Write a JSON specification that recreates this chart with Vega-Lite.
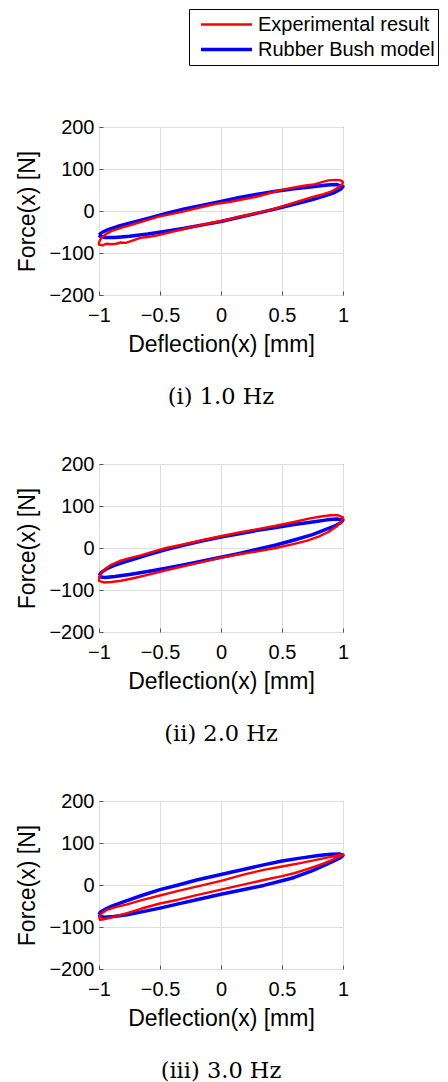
{
  "$schema": "https://vega.github.io/schema/vega-lite/v6.json",
  "autosize": {"type": "pad"},
  "padding": {"left": 16, "top": 8, "right": 0, "bottom": 0},
  "background": "white",
  "datasets": {
    "loops": [
      {"hz":"1.0","series":"Rubber Bush model","i":0,"x":-1,"y":-57},
      {"hz":"1.0","series":"Rubber Bush model","i":1,"x":-0.97,"y":-50},
      {"hz":"1.0","series":"Rubber Bush model","i":2,"x":-0.92,"y":-44},
      {"hz":"1.0","series":"Rubber Bush model","i":3,"x":-0.85,"y":-37},
      {"hz":"1.0","series":"Rubber Bush model","i":4,"x":-0.75,"y":-29},
      {"hz":"1.0","series":"Rubber Bush model","i":5,"x":-0.6,"y":-18},
      {"hz":"1.0","series":"Rubber Bush model","i":6,"x":-0.45,"y":-6},
      {"hz":"1.0","series":"Rubber Bush model","i":7,"x":-0.3,"y":5},
      {"hz":"1.0","series":"Rubber Bush model","i":8,"x":-0.15,"y":14},
      {"hz":"1.0","series":"Rubber Bush model","i":9,"x":0,"y":23},
      {"hz":"1.0","series":"Rubber Bush model","i":10,"x":0.15,"y":32},
      {"hz":"1.0","series":"Rubber Bush model","i":11,"x":0.3,"y":40},
      {"hz":"1.0","series":"Rubber Bush model","i":12,"x":0.45,"y":47},
      {"hz":"1.0","series":"Rubber Bush model","i":13,"x":0.6,"y":53},
      {"hz":"1.0","series":"Rubber Bush model","i":14,"x":0.75,"y":58},
      {"hz":"1.0","series":"Rubber Bush model","i":15,"x":0.87,"y":62},
      {"hz":"1.0","series":"Rubber Bush model","i":16,"x":0.95,"y":63},
      {"hz":"1.0","series":"Rubber Bush model","i":17,"x":1,"y":58},
      {"hz":"1.0","series":"Rubber Bush model","i":18,"x":0.98,"y":52},
      {"hz":"1.0","series":"Rubber Bush model","i":19,"x":0.93,"y":44},
      {"hz":"1.0","series":"Rubber Bush model","i":20,"x":0.85,"y":36},
      {"hz":"1.0","series":"Rubber Bush model","i":21,"x":0.75,"y":27},
      {"hz":"1.0","series":"Rubber Bush model","i":22,"x":0.6,"y":16},
      {"hz":"1.0","series":"Rubber Bush model","i":23,"x":0.45,"y":5},
      {"hz":"1.0","series":"Rubber Bush model","i":24,"x":0.3,"y":-5},
      {"hz":"1.0","series":"Rubber Bush model","i":25,"x":0.15,"y":-15},
      {"hz":"1.0","series":"Rubber Bush model","i":26,"x":0,"y":-25},
      {"hz":"1.0","series":"Rubber Bush model","i":27,"x":-0.15,"y":-33},
      {"hz":"1.0","series":"Rubber Bush model","i":28,"x":-0.3,"y":-41},
      {"hz":"1.0","series":"Rubber Bush model","i":29,"x":-0.45,"y":-48},
      {"hz":"1.0","series":"Rubber Bush model","i":30,"x":-0.6,"y":-55},
      {"hz":"1.0","series":"Rubber Bush model","i":31,"x":-0.75,"y":-60},
      {"hz":"1.0","series":"Rubber Bush model","i":32,"x":-0.87,"y":-63},
      {"hz":"1.0","series":"Rubber Bush model","i":33,"x":-0.95,"y":-63},
      {"hz":"1.0","series":"Rubber Bush model","i":34,"x":-0.99,"y":-60},
      {"hz":"1.0","series":"Rubber Bush model","i":35,"x":-1,"y":-57},

      {"hz":"1.0","series":"Experimental result","i":0,"x":-1,"y":-74},
      {"hz":"1.0","series":"Experimental result","i":1,"x":-0.98,"y":-64},
      {"hz":"1.0","series":"Experimental result","i":2,"x":-0.95,"y":-56},
      {"hz":"1.0","series":"Experimental result","i":3,"x":-0.9,"y":-48},
      {"hz":"1.0","series":"Experimental result","i":4,"x":-0.82,"y":-40},
      {"hz":"1.0","series":"Experimental result","i":5,"x":-0.72,"y":-32},
      {"hz":"1.0","series":"Experimental result","i":6,"x":-0.62,"y":-23},
      {"hz":"1.0","series":"Experimental result","i":7,"x":-0.52,"y":-14},
      {"hz":"1.0","series":"Experimental result","i":8,"x":-0.42,"y":-8},
      {"hz":"1.0","series":"Experimental result","i":9,"x":-0.32,"y":-2},
      {"hz":"1.0","series":"Experimental result","i":10,"x":-0.22,"y":5},
      {"hz":"1.0","series":"Experimental result","i":11,"x":-0.12,"y":12},
      {"hz":"1.0","series":"Experimental result","i":12,"x":-0.02,"y":18},
      {"hz":"1.0","series":"Experimental result","i":13,"x":0.08,"y":22},
      {"hz":"1.0","series":"Experimental result","i":14,"x":0.18,"y":28},
      {"hz":"1.0","series":"Experimental result","i":15,"x":0.28,"y":33},
      {"hz":"1.0","series":"Experimental result","i":16,"x":0.38,"y":41},
      {"hz":"1.0","series":"Experimental result","i":17,"x":0.48,"y":49},
      {"hz":"1.0","series":"Experimental result","i":18,"x":0.58,"y":55},
      {"hz":"1.0","series":"Experimental result","i":19,"x":0.68,"y":60},
      {"hz":"1.0","series":"Experimental result","i":20,"x":0.76,"y":63},
      {"hz":"1.0","series":"Experimental result","i":21,"x":0.82,"y":68},
      {"hz":"1.0","series":"Experimental result","i":22,"x":0.88,"y":73},
      {"hz":"1.0","series":"Experimental result","i":23,"x":0.94,"y":74},
      {"hz":"1.0","series":"Experimental result","i":24,"x":0.98,"y":73},
      {"hz":"1.0","series":"Experimental result","i":25,"x":1,"y":69},
      {"hz":"1.0","series":"Experimental result","i":26,"x":0.99,"y":62},
      {"hz":"1.0","series":"Experimental result","i":27,"x":0.95,"y":54},
      {"hz":"1.0","series":"Experimental result","i":28,"x":0.9,"y":46},
      {"hz":"1.0","series":"Experimental result","i":29,"x":0.84,"y":40},
      {"hz":"1.0","series":"Experimental result","i":30,"x":0.76,"y":34},
      {"hz":"1.0","series":"Experimental result","i":31,"x":0.68,"y":27},
      {"hz":"1.0","series":"Experimental result","i":32,"x":0.58,"y":18},
      {"hz":"1.0","series":"Experimental result","i":33,"x":0.48,"y":9},
      {"hz":"1.0","series":"Experimental result","i":34,"x":0.38,"y":1},
      {"hz":"1.0","series":"Experimental result","i":35,"x":0.28,"y":-6},
      {"hz":"1.0","series":"Experimental result","i":36,"x":0.18,"y":-12},
      {"hz":"1.0","series":"Experimental result","i":37,"x":0.08,"y":-19},
      {"hz":"1.0","series":"Experimental result","i":38,"x":-0.02,"y":-25},
      {"hz":"1.0","series":"Experimental result","i":39,"x":-0.12,"y":-31},
      {"hz":"1.0","series":"Experimental result","i":40,"x":-0.22,"y":-37},
      {"hz":"1.0","series":"Experimental result","i":41,"x":-0.32,"y":-44},
      {"hz":"1.0","series":"Experimental result","i":42,"x":-0.42,"y":-51},
      {"hz":"1.0","series":"Experimental result","i":43,"x":-0.52,"y":-58},
      {"hz":"1.0","series":"Experimental result","i":44,"x":-0.6,"y":-62},
      {"hz":"1.0","series":"Experimental result","i":45,"x":-0.66,"y":-64},
      {"hz":"1.0","series":"Experimental result","i":46,"x":-0.72,"y":-70},
      {"hz":"1.0","series":"Experimental result","i":47,"x":-0.78,"y":-76},
      {"hz":"1.0","series":"Experimental result","i":48,"x":-0.82,"y":-75},
      {"hz":"1.0","series":"Experimental result","i":49,"x":-0.86,"y":-78},
      {"hz":"1.0","series":"Experimental result","i":50,"x":-0.9,"y":-79},
      {"hz":"1.0","series":"Experimental result","i":51,"x":-0.94,"y":-78},
      {"hz":"1.0","series":"Experimental result","i":52,"x":-0.97,"y":-82},
      {"hz":"1.0","series":"Experimental result","i":53,"x":-1,"y":-80},
      {"hz":"1.0","series":"Experimental result","i":54,"x":-1,"y":-74},

      {"hz":"2.0","series":"Rubber Bush model","i":0,"x":-1,"y":-66},
      {"hz":"2.0","series":"Rubber Bush model","i":1,"x":-0.98,"y":-58},
      {"hz":"2.0","series":"Rubber Bush model","i":2,"x":-0.94,"y":-50},
      {"hz":"2.0","series":"Rubber Bush model","i":3,"x":-0.88,"y":-42},
      {"hz":"2.0","series":"Rubber Bush model","i":4,"x":-0.8,"y":-34},
      {"hz":"2.0","series":"Rubber Bush model","i":5,"x":-0.7,"y":-25},
      {"hz":"2.0","series":"Rubber Bush model","i":6,"x":-0.6,"y":-16},
      {"hz":"2.0","series":"Rubber Bush model","i":7,"x":-0.45,"y":-4},
      {"hz":"2.0","series":"Rubber Bush model","i":8,"x":-0.3,"y":7},
      {"hz":"2.0","series":"Rubber Bush model","i":9,"x":-0.15,"y":17},
      {"hz":"2.0","series":"Rubber Bush model","i":10,"x":0,"y":26},
      {"hz":"2.0","series":"Rubber Bush model","i":11,"x":0.15,"y":34},
      {"hz":"2.0","series":"Rubber Bush model","i":12,"x":0.3,"y":42},
      {"hz":"2.0","series":"Rubber Bush model","i":13,"x":0.45,"y":49},
      {"hz":"2.0","series":"Rubber Bush model","i":14,"x":0.6,"y":56},
      {"hz":"2.0","series":"Rubber Bush model","i":15,"x":0.75,"y":62},
      {"hz":"2.0","series":"Rubber Bush model","i":16,"x":0.87,"y":67},
      {"hz":"2.0","series":"Rubber Bush model","i":17,"x":0.95,"y":69},
      {"hz":"2.0","series":"Rubber Bush model","i":18,"x":1,"y":67},
      {"hz":"2.0","series":"Rubber Bush model","i":19,"x":0.98,"y":60},
      {"hz":"2.0","series":"Rubber Bush model","i":20,"x":0.93,"y":52},
      {"hz":"2.0","series":"Rubber Bush model","i":21,"x":0.85,"y":43},
      {"hz":"2.0","series":"Rubber Bush model","i":22,"x":0.75,"y":32},
      {"hz":"2.0","series":"Rubber Bush model","i":23,"x":0.6,"y":19},
      {"hz":"2.0","series":"Rubber Bush model","i":24,"x":0.45,"y":7},
      {"hz":"2.0","series":"Rubber Bush model","i":25,"x":0.3,"y":-3},
      {"hz":"2.0","series":"Rubber Bush model","i":26,"x":0.15,"y":-13},
      {"hz":"2.0","series":"Rubber Bush model","i":27,"x":0,"y":-22},
      {"hz":"2.0","series":"Rubber Bush model","i":28,"x":-0.15,"y":-31},
      {"hz":"2.0","series":"Rubber Bush model","i":29,"x":-0.3,"y":-40},
      {"hz":"2.0","series":"Rubber Bush model","i":30,"x":-0.45,"y":-48},
      {"hz":"2.0","series":"Rubber Bush model","i":31,"x":-0.6,"y":-56},
      {"hz":"2.0","series":"Rubber Bush model","i":32,"x":-0.75,"y":-63},
      {"hz":"2.0","series":"Rubber Bush model","i":33,"x":-0.87,"y":-68},
      {"hz":"2.0","series":"Rubber Bush model","i":34,"x":-0.95,"y":-70},
      {"hz":"2.0","series":"Rubber Bush model","i":35,"x":-0.99,"y":-69},
      {"hz":"2.0","series":"Rubber Bush model","i":36,"x":-1,"y":-66},

      {"hz":"2.0","series":"Experimental result","i":0,"x":-1,"y":-72},
      {"hz":"2.0","series":"Experimental result","i":1,"x":-0.98,"y":-60},
      {"hz":"2.0","series":"Experimental result","i":2,"x":-0.95,"y":-50},
      {"hz":"2.0","series":"Experimental result","i":3,"x":-0.9,"y":-40},
      {"hz":"2.0","series":"Experimental result","i":4,"x":-0.83,"y":-31},
      {"hz":"2.0","series":"Experimental result","i":5,"x":-0.75,"y":-24},
      {"hz":"2.0","series":"Experimental result","i":6,"x":-0.65,"y":-17},
      {"hz":"2.0","series":"Experimental result","i":7,"x":-0.55,"y":-8},
      {"hz":"2.0","series":"Experimental result","i":8,"x":-0.45,"y":0},
      {"hz":"2.0","series":"Experimental result","i":9,"x":-0.3,"y":9},
      {"hz":"2.0","series":"Experimental result","i":10,"x":-0.15,"y":19},
      {"hz":"2.0","series":"Experimental result","i":11,"x":0,"y":28},
      {"hz":"2.0","series":"Experimental result","i":12,"x":0.15,"y":37},
      {"hz":"2.0","series":"Experimental result","i":13,"x":0.3,"y":45},
      {"hz":"2.0","series":"Experimental result","i":14,"x":0.45,"y":53},
      {"hz":"2.0","series":"Experimental result","i":15,"x":0.6,"y":62},
      {"hz":"2.0","series":"Experimental result","i":16,"x":0.72,"y":70},
      {"hz":"2.0","series":"Experimental result","i":17,"x":0.82,"y":75},
      {"hz":"2.0","series":"Experimental result","i":18,"x":0.9,"y":78},
      {"hz":"2.0","series":"Experimental result","i":19,"x":0.96,"y":78},
      {"hz":"2.0","series":"Experimental result","i":20,"x":1,"y":73},
      {"hz":"2.0","series":"Experimental result","i":21,"x":0.99,"y":64},
      {"hz":"2.0","series":"Experimental result","i":22,"x":0.95,"y":52},
      {"hz":"2.0","series":"Experimental result","i":23,"x":0.88,"y":38},
      {"hz":"2.0","series":"Experimental result","i":24,"x":0.8,"y":27},
      {"hz":"2.0","series":"Experimental result","i":25,"x":0.7,"y":17},
      {"hz":"2.0","series":"Experimental result","i":26,"x":0.6,"y":10},
      {"hz":"2.0","series":"Experimental result","i":27,"x":0.45,"y":0},
      {"hz":"2.0","series":"Experimental result","i":28,"x":0.3,"y":-8},
      {"hz":"2.0","series":"Experimental result","i":29,"x":0.15,"y":-15},
      {"hz":"2.0","series":"Experimental result","i":30,"x":0,"y":-23},
      {"hz":"2.0","series":"Experimental result","i":31,"x":-0.15,"y":-33},
      {"hz":"2.0","series":"Experimental result","i":32,"x":-0.3,"y":-43},
      {"hz":"2.0","series":"Experimental result","i":33,"x":-0.45,"y":-53},
      {"hz":"2.0","series":"Experimental result","i":34,"x":-0.6,"y":-64},
      {"hz":"2.0","series":"Experimental result","i":35,"x":-0.72,"y":-72},
      {"hz":"2.0","series":"Experimental result","i":36,"x":-0.82,"y":-78},
      {"hz":"2.0","series":"Experimental result","i":37,"x":-0.9,"y":-81},
      {"hz":"2.0","series":"Experimental result","i":38,"x":-0.96,"y":-82},
      {"hz":"2.0","series":"Experimental result","i":39,"x":-1,"y":-78},
      {"hz":"2.0","series":"Experimental result","i":40,"x":-1,"y":-72},

      {"hz":"3.0","series":"Rubber Bush model","i":0,"x":-1,"y":-71},
      {"hz":"3.0","series":"Rubber Bush model","i":1,"x":-0.99,"y":-65},
      {"hz":"3.0","series":"Rubber Bush model","i":2,"x":-0.95,"y":-58},
      {"hz":"3.0","series":"Rubber Bush model","i":3,"x":-0.9,"y":-51},
      {"hz":"3.0","series":"Rubber Bush model","i":4,"x":-0.8,"y":-40},
      {"hz":"3.0","series":"Rubber Bush model","i":5,"x":-0.65,"y":-25},
      {"hz":"3.0","series":"Rubber Bush model","i":6,"x":-0.5,"y":-11},
      {"hz":"3.0","series":"Rubber Bush model","i":7,"x":-0.35,"y":0},
      {"hz":"3.0","series":"Rubber Bush model","i":8,"x":-0.2,"y":12},
      {"hz":"3.0","series":"Rubber Bush model","i":9,"x":0,"y":25},
      {"hz":"3.0","series":"Rubber Bush model","i":10,"x":0.2,"y":38},
      {"hz":"3.0","series":"Rubber Bush model","i":11,"x":0.35,"y":48},
      {"hz":"3.0","series":"Rubber Bush model","i":12,"x":0.5,"y":57},
      {"hz":"3.0","series":"Rubber Bush model","i":13,"x":0.65,"y":64},
      {"hz":"3.0","series":"Rubber Bush model","i":14,"x":0.8,"y":70},
      {"hz":"3.0","series":"Rubber Bush model","i":15,"x":0.9,"y":73},
      {"hz":"3.0","series":"Rubber Bush model","i":16,"x":0.97,"y":74},
      {"hz":"3.0","series":"Rubber Bush model","i":17,"x":1,"y":71},
      {"hz":"3.0","series":"Rubber Bush model","i":18,"x":0.98,"y":65},
      {"hz":"3.0","series":"Rubber Bush model","i":19,"x":0.92,"y":57},
      {"hz":"3.0","series":"Rubber Bush model","i":20,"x":0.85,"y":47},
      {"hz":"3.0","series":"Rubber Bush model","i":21,"x":0.75,"y":34},
      {"hz":"3.0","series":"Rubber Bush model","i":22,"x":0.6,"y":18},
      {"hz":"3.0","series":"Rubber Bush model","i":23,"x":0.5,"y":10},
      {"hz":"3.0","series":"Rubber Bush model","i":24,"x":0.35,"y":-1},
      {"hz":"3.0","series":"Rubber Bush model","i":25,"x":0.2,"y":-10},
      {"hz":"3.0","series":"Rubber Bush model","i":26,"x":0,"y":-22},
      {"hz":"3.0","series":"Rubber Bush model","i":27,"x":-0.2,"y":-35},
      {"hz":"3.0","series":"Rubber Bush model","i":28,"x":-0.35,"y":-45},
      {"hz":"3.0","series":"Rubber Bush model","i":29,"x":-0.5,"y":-55},
      {"hz":"3.0","series":"Rubber Bush model","i":30,"x":-0.65,"y":-64},
      {"hz":"3.0","series":"Rubber Bush model","i":31,"x":-0.77,"y":-71},
      {"hz":"3.0","series":"Rubber Bush model","i":32,"x":-0.88,"y":-75},
      {"hz":"3.0","series":"Rubber Bush model","i":33,"x":-0.95,"y":-77},
      {"hz":"3.0","series":"Rubber Bush model","i":34,"x":-0.99,"y":-75},
      {"hz":"3.0","series":"Rubber Bush model","i":35,"x":-1,"y":-71},

      {"hz":"3.0","series":"Experimental result","i":0,"x":-1,"y":-81},
      {"hz":"3.0","series":"Experimental result","i":1,"x":-0.98,"y":-68},
      {"hz":"3.0","series":"Experimental result","i":2,"x":-0.94,"y":-60},
      {"hz":"3.0","series":"Experimental result","i":3,"x":-0.88,"y":-54},
      {"hz":"3.0","series":"Experimental result","i":4,"x":-0.77,"y":-46},
      {"hz":"3.0","series":"Experimental result","i":5,"x":-0.65,"y":-36},
      {"hz":"3.0","series":"Experimental result","i":6,"x":-0.5,"y":-25},
      {"hz":"3.0","series":"Experimental result","i":7,"x":-0.35,"y":-14},
      {"hz":"3.0","series":"Experimental result","i":8,"x":-0.2,"y":-4},
      {"hz":"3.0","series":"Experimental result","i":9,"x":0,"y":10},
      {"hz":"3.0","series":"Experimental result","i":10,"x":0.2,"y":26},
      {"hz":"3.0","series":"Experimental result","i":11,"x":0.35,"y":36},
      {"hz":"3.0","series":"Experimental result","i":12,"x":0.5,"y":44},
      {"hz":"3.0","series":"Experimental result","i":13,"x":0.65,"y":52},
      {"hz":"3.0","series":"Experimental result","i":14,"x":0.8,"y":61},
      {"hz":"3.0","series":"Experimental result","i":15,"x":0.92,"y":68},
      {"hz":"3.0","series":"Experimental result","i":16,"x":0.98,"y":72},
      {"hz":"3.0","series":"Experimental result","i":17,"x":1,"y":72},
      {"hz":"3.0","series":"Experimental result","i":18,"x":0.98,"y":70},
      {"hz":"3.0","series":"Experimental result","i":19,"x":0.92,"y":61},
      {"hz":"3.0","series":"Experimental result","i":20,"x":0.85,"y":52},
      {"hz":"3.0","series":"Experimental result","i":21,"x":0.75,"y":42},
      {"hz":"3.0","series":"Experimental result","i":22,"x":0.6,"y":28},
      {"hz":"3.0","series":"Experimental result","i":23,"x":0.5,"y":21},
      {"hz":"3.0","series":"Experimental result","i":24,"x":0.35,"y":12},
      {"hz":"3.0","series":"Experimental result","i":25,"x":0.2,"y":2},
      {"hz":"3.0","series":"Experimental result","i":26,"x":0,"y":-11},
      {"hz":"3.0","series":"Experimental result","i":27,"x":-0.2,"y":-24},
      {"hz":"3.0","series":"Experimental result","i":28,"x":-0.35,"y":-35},
      {"hz":"3.0","series":"Experimental result","i":29,"x":-0.5,"y":-44},
      {"hz":"3.0","series":"Experimental result","i":30,"x":-0.65,"y":-56},
      {"hz":"3.0","series":"Experimental result","i":31,"x":-0.77,"y":-67},
      {"hz":"3.0","series":"Experimental result","i":32,"x":-0.88,"y":-76},
      {"hz":"3.0","series":"Experimental result","i":33,"x":-0.95,"y":-81},
      {"hz":"3.0","series":"Experimental result","i":34,"x":-0.99,"y":-83},
      {"hz":"3.0","series":"Experimental result","i":35,"x":-1,"y":-81}
    ]
  },
  "data": {"name": "loops"},
  "spacing": 169,
  "bounds": "flush",
  "resolve": {"scale": {"color": "shared"}},
  "vconcat": [
    {
      "width": 244, "height": 168,
      "title": {"text": "(i) 1.0 Hz"},
      "transform": [{"filter": "datum.hz == '1.0'"}],
      "mark": {"type": "line", "strokeJoin": "round"},
      "encoding": {
        "x": {"field": "x", "type": "quantitative", "scale": {"domain": [-1, 1], "nice": false, "zero": false}, "axis": {"values": [-1, -0.5, 0, 0.5, 1], "format": "~g", "title": "Deflection(x) [mm]"}},
        "y": {"field": "y", "type": "quantitative", "scale": {"domain": [-200, 200], "nice": false}, "axis": {"values": [-200, -100, 0, 100, 200], "format": "d", "title": "Force(x) [N]"}},
        "color": {"field": "series", "type": "nominal", "scale": {"domain": ["Experimental result", "Rubber Bush model"], "range": ["#ff0000", "#0000ff"]}, "legend": {"title": null, "orient": "none", "legendX": 90, "legendY": -118}},
        "strokeWidth": {"field": "series", "type": "ordinal", "scale": {"domain": ["Experimental result", "Rubber Bush model"], "range": [2.4, 3.5]}, "legend": null},
        "order": {"field": "i", "type": "quantitative"}
      }
    },
    {
      "width": 244, "height": 168,
      "title": {"text": "(ii) 2.0 Hz"},
      "transform": [{"filter": "datum.hz == '2.0'"}],
      "mark": {"type": "line", "strokeJoin": "round"},
      "encoding": {
        "x": {"field": "x", "type": "quantitative", "scale": {"domain": [-1, 1], "nice": false, "zero": false}, "axis": {"values": [-1, -0.5, 0, 0.5, 1], "format": "~g", "title": "Deflection(x) [mm]"}},
        "y": {"field": "y", "type": "quantitative", "scale": {"domain": [-200, 200], "nice": false}, "axis": {"values": [-200, -100, 0, 100, 200], "format": "d", "title": "Force(x) [N]"}},
        "color": {"field": "series", "type": "nominal", "scale": {"domain": ["Experimental result", "Rubber Bush model"], "range": ["#ff0000", "#0000ff"]}, "legend": {"title": null, "orient": "none", "legendX": 90, "legendY": -118}},
        "strokeWidth": {"field": "series", "type": "ordinal", "scale": {"domain": ["Experimental result", "Rubber Bush model"], "range": [2.4, 3.5]}, "legend": null},
        "order": {"field": "i", "type": "quantitative"}
      }
    },
    {
      "width": 244, "height": 168,
      "title": {"text": "(iii) 3.0 Hz"},
      "transform": [{"filter": "datum.hz == '3.0'"}],
      "mark": {"type": "line", "strokeJoin": "round"},
      "encoding": {
        "x": {"field": "x", "type": "quantitative", "scale": {"domain": [-1, 1], "nice": false, "zero": false}, "axis": {"values": [-1, -0.5, 0, 0.5, 1], "format": "~g", "title": "Deflection(x) [mm]"}},
        "y": {"field": "y", "type": "quantitative", "scale": {"domain": [-200, 200], "nice": false}, "axis": {"values": [-200, -100, 0, 100, 200], "format": "d", "title": "Force(x) [N]"}},
        "color": {"field": "series", "type": "nominal", "scale": {"domain": ["Experimental result", "Rubber Bush model"], "range": ["#ff0000", "#0000ff"]}, "legend": {"title": null, "orient": "none", "legendX": 90, "legendY": -118}},
        "strokeWidth": {"field": "series", "type": "ordinal", "scale": {"domain": ["Experimental result", "Rubber Bush model"], "range": [2.4, 3.5]}, "legend": null},
        "order": {"field": "i", "type": "quantitative"}
      }
    }
  ],
  "config": {
    "view": {"stroke": "#555555", "strokeWidth": 1},
    "axis": {
      "labelFont": "Liberation Sans", "labelFontSize": 20, "labelColor": "#000000",
      "titleFont": "Liberation Sans", "titleFontSize": 23, "titleFontWeight": "normal", "titleColor": "#000000",
      "grid": true, "gridColor": "#dedede", "gridWidth": 1,
      "tickColor": "#555555", "tickSize": -4, "tickWidth": 1,
      "domain": false, "labelFlush": false, "labelOverlap": false
    },
    "axisX": {"labelPadding": 14.5, "titlePadding": 8},
    "axisY": {"labelPadding": 9, "titlePadding": 9},
    "legend": {
      "strokeColor": "#000000", "fillColor": "#ffffff", "padding": 3,
      "symbolType": "stroke", "symbolSize": 2601, "symbolStrokeWidth": 3, "symbolOffset": 7,
      "labelFont": "Liberation Sans", "labelFontSize": 20, "labelColor": "#000000",
      "labelOffset": 4, "clipHeight": 25, "rowPadding": 0, "labelLimit": 300, "direction": "vertical"
    },
    "title": {"font": "DejaVu Serif", "fontSize": 22.5, "fontWeight": "normal", "color": "#000000", "orient": "bottom", "anchor": "middle", "offset": 29}
  }
}
